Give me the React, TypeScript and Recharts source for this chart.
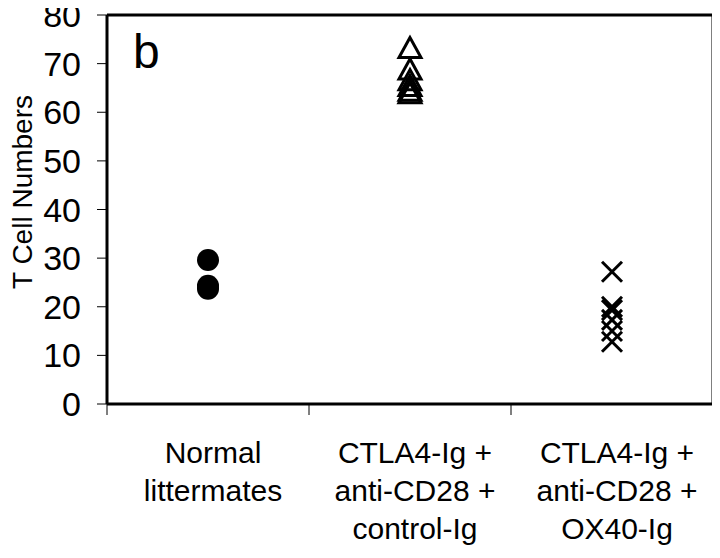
import React from "react";
import {
    ScatterChart,
    Scatter,
    XAxis,
    YAxis,
    ReferenceLine,
} from "recharts";

// group labels, one entry per line
const categories = [
    ["Normal", "littermates"],
    ["CTLA4-Ig +", "anti-CD28 +", "control-Ig"],
    ["CTLA4-Ig +", "anti-CD28 +", "OX40-Ig"],
];

const normalValues = [29.6, 24.3, 23.7];
const controlValues = [73.3, 68.9, 66.7, 65.5, 64.5, 64.0];
const ox40Values = [27.2, 20.0, 19.3, 17.3, 15.0, 12.8];

const yTicks = [0, 10, 20, 30, 40, 50, 60, 70, 80];
const xTicks = [0, 0.5, 1, 1.5, 2, 2.5, 3];

const FONT = "'Liberation Sans', Arial, sans-serif";

const toPoints = (values: number[], group: number) =>
    values.map((v) => ({ x: group + 0.5, y: v }));

const normalData = toPoints(normalValues, 0);
const controlData = toPoints(controlValues, 1);
const ox40Data = toPoints(ox40Values, 2);

function CategoryTick(props: any) {
    const { x, y, payload } = props;
    const v = payload.value;
    if (Number.isInteger(v)) {
        return (
            <line x1={x} y1={y} x2={x} y2={y + 11} stroke="#000" strokeWidth={1} />
        );
    }
    const lines = categories[Math.floor(v)];
    return (
        <text
            x={x + 5}
            y={y + 59}
            textAnchor="middle"
            fontFamily={FONT}
            fontSize={30}
            fill="#000"
        >
            {lines.map((line, i) => (
                <tspan key={i} x={x + 5} dy={i === 0 ? 0 : 38}>
                    {line}
                </tspan>
            ))}
        </text>
    );
}

function ValueTick(props: any) {
    const { x, y, payload } = props;
    return (
        <text
            x={x}
            y={y + 12}
            textAnchor="end"
            fontFamily={FONT}
            fontSize={34}
            fill="#000"
        >
            {payload.value}
        </text>
    );
}

function Dot(props: any) {
    return <circle cx={props.cx} cy={props.cy} r={11} fill="#000" />;
}

function Triangle(props: any) {
    const { cx, cy } = props;
    return (
        <polygon
            points={`${cx},${cy - 10} ${cx - 11},${cy + 10} ${cx + 11},${cy + 10}`}
            fill="none"
            stroke="#000"
            strokeWidth={3}
        />
    );
}

function Cross(props: any) {
    const { cx, cy } = props;
    return (
        <g stroke="#000" strokeWidth={3}>
            <line x1={cx - 10} y1={cy - 10} x2={cx + 10} y2={cy + 10} />
            <line x1={cx - 10} y1={cy + 10} x2={cx + 10} y2={cy - 10} />
        </g>
    );
}

export default function App() {
    return (
        <div style={{ margin: "-8px 0 0 -8px", width: 720, height: 558 }}>
            <ScatterChart
                width={720}
                height={558}
                margin={{ top: 15, right: 7, left: 0, bottom: 0 }}
            >
                <XAxis
                    type="number"
                    dataKey="x"
                    domain={[0, 3]}
                    ticks={xTicks}
                    interval={0}
                    tickLine={false}
                    tickSize={0}
                    tickMargin={0}
                    height={154}
                    axisLine={{ stroke: "#000", strokeWidth: 3 }}
                    tick={<CategoryTick />}
                />
                <YAxis
                    type="number"
                    dataKey="y"
                    domain={[0, 80]}
                    ticks={yTicks}
                    interval={0}
                    width={107}
                    tickSize={10}
                    tickMargin={16}
                    axisLine={{ stroke: "#000", strokeWidth: 3 }}
                    tickLine={{ stroke: "#000", strokeWidth: 1 }}
                    tick={<ValueTick />}
                    label={{
                        content: () => (
                            <text
                                x={22}
                                y={192}
                                transform="rotate(-90 22 192)"
                                textAnchor="middle"
                                dominantBaseline="central"
                                fontFamily={FONT}
                                fontSize={28}
                                fill="#000"
                            >
                                T Cell Numbers
                            </text>
                        ),
                    }}
                />
                <ReferenceLine
                    y={80}
                    stroke="#000"
                    strokeWidth={3}
                    label={{
                        content: (p: any) => (
                            <text
                                x={p.viewBox.x + 26}
                                y={p.viewBox.y + 53}
                                fontFamily={FONT}
                                fontSize={48}
                                fill="#000"
                            >
                                b
                            </text>
                        ),
                    }}
                />
                <ReferenceLine x={3} stroke="#000" strokeWidth={3} />
                <Scatter data={normalData} shape={<Dot />} isAnimationActive={false} />
                <Scatter data={controlData} shape={<Triangle />} isAnimationActive={false} />
                <Scatter data={ox40Data} shape={<Cross />} isAnimationActive={false} />
            </ScatterChart>
        </div>
    );
}
